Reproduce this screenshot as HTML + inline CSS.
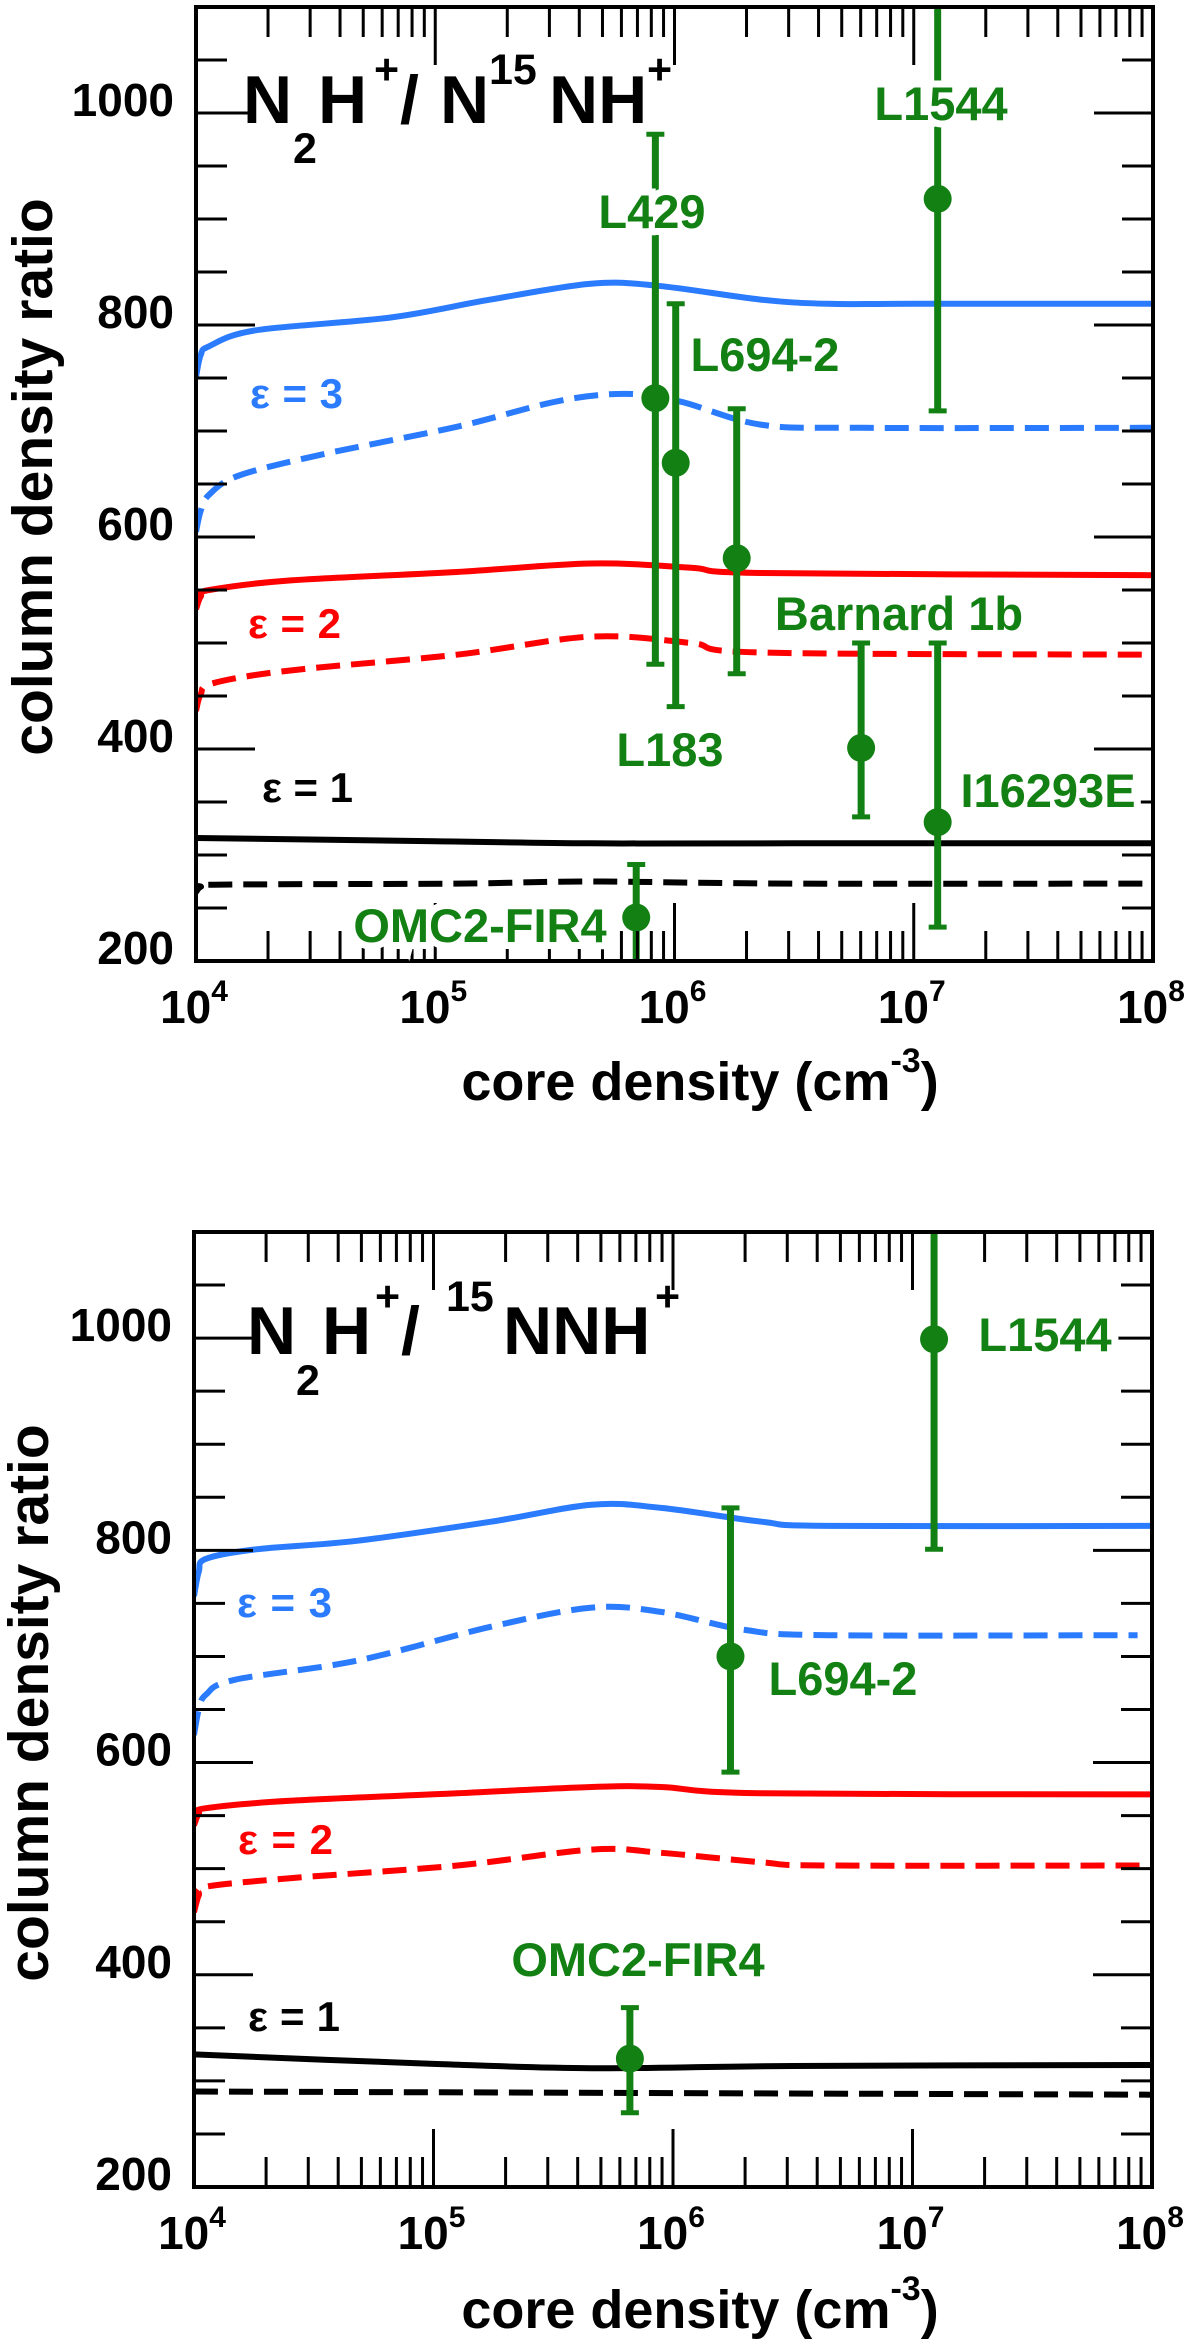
<!DOCTYPE html>
<html><head><meta charset="utf-8"><style>
html,body{margin:0;padding:0;background:#fff;}
svg{display:block;font-family:"Liberation Sans",Arial,sans-serif;font-weight:bold;}
.g{fill:#138013;stroke:#fff;stroke-width:14;paint-order:stroke;font-size:47px;}
</style></head><body>
<svg id="chart" width="1200" height="2348" viewBox="0 0 1200 2348" xmlns="http://www.w3.org/2000/svg">
<defs>
<clipPath id="clipTop"><rect x="196" y="7" width="957" height="954"/></clipPath>
<clipPath id="clipBot"><rect x="194" y="1232" width="958" height="955"/></clipPath>
</defs>
<g id="top"></g>
<g id="bot"></g>

<!-- Top panel texts -->
<text font-size="68" fill="#000" y="123"><tspan x="243">N</tspan><tspan x="293" y="163" font-size="43">2</tspan><tspan x="318" y="123">H</tspan><tspan x="374" y="84" font-size="43">+</tspan><tspan x="400" y="123">/</tspan><tspan x="440" y="123">N</tspan><tspan x="489" y="84" font-size="43">15</tspan><tspan x="549" y="123">NH</tspan><tspan x="647" y="84" font-size="43">+</tspan></text>
<text x="250" y="408" font-size="42" fill="#2b7bff" textLength="93">ε = 3</text>
<text x="248" y="638" font-size="42" fill="#ff0000" textLength="93">ε = 2</text>
<text x="262" y="802" font-size="42" fill="#000" textLength="91">ε = 1</text>
<text class="g" x="941" y="120" text-anchor="middle">L1544</text>
<text class="g" x="652" y="228" text-anchor="middle">L429</text>
<text class="g" x="765" y="371" text-anchor="middle">L694-2</text>
<text class="g" x="670" y="766" text-anchor="middle">L183</text>
<text class="g" x="899" y="630" text-anchor="middle">Barnard 1b</text>
<text class="g" x="1048" y="807" text-anchor="middle">I16293E</text>
<text class="g" x="480" y="942" text-anchor="middle">OMC2-FIR4</text>
<text font-size="57" fill="#000" text-anchor="middle" transform="translate(52,477) rotate(-90)">column density ratio</text>
<text font-size="54" fill="#000" text-anchor="middle" x="700" y="1100">core density (cm<tspan font-size="34" dy="-28">-3</tspan><tspan dy="28">)</tspan></text>

<!-- Bottom panel texts -->
<text font-size="68" fill="#000" y="1354"><tspan x="247">N</tspan><tspan x="296" y="1395" font-size="43">2</tspan><tspan x="322" y="1354">H</tspan><tspan x="375" y="1311" font-size="43">+</tspan><tspan x="401" y="1354">/</tspan><tspan x="446" y="1311" font-size="43">15</tspan><tspan x="503" y="1354">NNH</tspan><tspan x="655" y="1311" font-size="43">+</tspan></text>
<text x="237" y="1617" font-size="42" fill="#2b7bff" textLength="95">ε = 3</text>
<text x="238" y="1854" font-size="42" fill="#ff0000" textLength="95">ε = 2</text>
<text x="248" y="2031" font-size="42" fill="#000" textLength="92">ε = 1</text>
<text class="g" x="1045" y="1351" text-anchor="middle">L1544</text>
<text class="g" x="843" y="1695" text-anchor="middle">L694-2</text>
<text class="g" x="638" y="1976" text-anchor="middle">OMC2-FIR4</text>
<text font-size="57" fill="#000" text-anchor="middle" transform="translate(48,1703) rotate(-90)">column density ratio</text>
<text font-size="54" fill="#000" text-anchor="middle" x="700" y="2328">core density (cm<tspan font-size="34" dy="-28">-3</tspan><tspan dy="28">)</tspan></text>
</svg>
<script>
// ---- data (x = log10 core density, y = column density ratio) ----
const yTicks = [200, 400, 600, 800, 1000];
const xDecades = [4, 5, 6, 7, 8];

const topBlueSolidX = [4.0, 4.02, 4.055, 4.25, 4.81, 5.23, 5.65, 5.93, 6.36, 6.64, 7.0, 8.0];
const topBlueSolidY = [751, 772, 780, 795, 807, 824, 839, 837, 824, 820, 820, 820];
const topBlueDashX = [4.0, 4.02, 4.055, 4.18, 4.53, 5.09, 5.51, 5.79, 6.02, 6.36, 6.78, 8.0];
const topBlueDashY = [605, 625, 640, 658, 678, 704, 728, 735, 728, 706, 703, 703];
const topRedSolidX = [4.0, 4.02, 4.055, 4.39, 5.09, 5.65, 6.07, 6.36, 8.0];
const topRedSolidY = [532, 544, 550, 559, 567, 575, 571, 566, 564];
const topRedDashX = [4.0, 4.02, 4.07, 4.39, 5.09, 5.65, 6.07, 6.36, 8.0];
const topRedDashY = [436, 452, 462, 474, 489, 506, 500, 491, 489];
const topBlackSolidX = [4.0, 5.0, 5.65, 6.5, 8.0];
const topBlackSolidY = [316, 313, 311, 311, 311];
const topBlackDashX = [4.0, 4.02, 4.07, 5.09, 5.65, 6.5, 8.0];
const topBlackDashY = [265, 270, 272, 273, 275, 273, 273];

const topPointNames = ["omc2-fir4", "l429", "l694-2", "l183", "barnard-1b", "i16293e", "l1544"];
const topPointX = [5.84, 5.92, 6.005, 6.26, 6.78, 7.10, 7.10];
const topPointY = [241, 731, 670, 580, 401, 331, 919];
const topPointLo = [185, 480, 440, 471, 336, 232, 719];
const topPointHi = [291, 980, 820, 721, 500, 500, 1150];

const botBlueSolidX = [4.0, 4.02, 4.05, 4.26, 4.68, 5.24, 5.66, 5.95, 6.37, 6.65, 8.0];
const botBlueSolidY = [757, 780, 792, 801, 809, 827, 843, 840, 827, 823, 823];
const botBlueDashX = [4.0, 4.02, 4.05, 4.17, 4.68, 5.24, 5.66, 5.95, 6.3, 6.65, 7.94];
const botBlueDashY = [626, 650, 664, 678, 696, 728, 746, 742, 725, 720, 720];
const botRedSolidX = [4.0, 4.02, 4.05, 4.4, 5.1, 5.66, 5.95, 6.37, 8.0];
const botRedSolidY = [541, 552, 557, 564, 571, 577, 577, 571, 570];
const botRedDashX = [4.0, 4.02, 4.05, 4.4, 5.1, 5.66, 5.95, 6.37, 6.65, 8.0];
const botRedDashY = [459, 475, 483, 491, 503, 518, 515, 506, 503, 503];
const botBlackSolidX = [4.0, 5.0, 5.66, 6.5, 8.0];
const botBlackSolidY = [325, 316, 312, 314, 315];
const botBlackDashX = [4.0, 8.0];
const botBlackDashY = [290, 287];

const botPointNames = ["omc2-fir4", "l694-2", "l1544"];
const botPointX = [5.82, 6.24, 7.09];
const botPointY = [321, 700, 999];
const botPointLo = [270, 591, 801];
const botPointHi = [369, 840, 1150];

const NS = "http://www.w3.org/2000/svg";
function mk(tag, attrs, parent) {
  const e = document.createElementNS(NS, tag);
  for (const k in attrs) e.setAttribute(k, attrs[k]);
  parent.appendChild(e);
  return e;
}

function panel(gid, box, clipId, series, pts, prefix) {
  const g = document.getElementById(gid);
  const xs = v => box.l + (v - 4) / 4 * (box.r - box.l);
  const ys = v => box.b - (v - 200) / 900 * (box.b - box.t);
  const plotG = mk("g", {"clip-path": "url(#" + clipId + ")"}, g);
  
  
  series.forEach(s => {
    const P = s.x.map((v, i) => [xs(v), ys(s.y[i])]);
    let d = "M" + P[0][0].toFixed(1) + "," + P[0][1].toFixed(1);
    for (let i = 0; i < P.length - 1; i++) {
      const p0 = P[Math.max(0, i - 1)], p1 = P[i], p2 = P[i + 1], p3 = P[Math.min(P.length - 1, i + 2)];
      const c1 = [p1[0] + (p2[0] - p0[0]) / 6, p1[1] + (p2[1] - p0[1]) / 6];
      const c2 = [p2[0] - (p3[0] - p1[0]) / 6, p2[1] - (p3[1] - p1[1]) / 6];
      d += "C" + c1[0].toFixed(1) + "," + c1[1].toFixed(1) + " " + c2[0].toFixed(1) + "," + c2[1].toFixed(1) + " " + p2[0].toFixed(1) + "," + p2[1].toFixed(1);
    }
    const path = mk("path", {d: d, fill: "none", stroke: s.c, "stroke-width": 6, "stroke-dasharray": s.dash ? "24 11" : "none"}, plotG);
    
    
  });
  pts.names.forEach((n, i) => {
    const x = xs(pts.x[i]);
    const pg = mk("g", {}, plotG);
    
    
    mk("line", {x1: x, x2: x, y1: ys(pts.lo[i]), y2: ys(pts.hi[i]), stroke: "#138013", "stroke-width": 7}, pg);
    [pts.lo[i], pts.hi[i]].forEach(v => {
      mk("line", {x1: x - 9, x2: x + 9, y1: ys(v), y2: ys(v), stroke: "#138013", "stroke-width": 5}, pg);
    });
    mk("circle", {cx: x, cy: ys(pts.y[i]), r: 14, fill: "#138013"}, pg);
  });
  const fr = mk("rect", {x: box.l, y: box.t, width: box.r - box.l, height: box.b - box.t, fill: "none", stroke: "#000", "stroke-width": 4}, g);
  
  
  const yt = mk("g", {stroke: "#000", "stroke-width": 3}, g);
  
  
  for (let v = 250; v < 1100; v += 50) {
    const L = (v % 200 === 0) ? 59 : 31;
    mk("line", {x1: box.l, x2: box.l + L, y1: ys(v), y2: ys(v)}, yt);
    mk("line", {x1: box.r, x2: box.r - L, y1: ys(v), y2: ys(v)}, yt);
  }
  yTicks.forEach(v => {
    const t = mk("text", {x: box.l - 22, y: ys(v) + 3, "text-anchor": "end", "font-size": 46, fill: "#000"}, g);
    t.textContent = String(v);
    
    
  });
  const xt = mk("g", {stroke: "#000", "stroke-width": 3}, g);
  
  
  for (let dcd = 4; dcd < 8; dcd++) {
    for (let m = 1; m <= 9; m++) {
      const lv = dcd + Math.log10(m);
      if (m === 1 && dcd === 4) continue;
      const L = m === 1 ? 58 : 30;
      const x = xs(lv);
      mk("line", {x1: x, x2: x, y1: box.b, y2: box.b - L}, xt);
      mk("line", {x1: x, x2: x, y1: box.t, y2: box.t + L}, xt);
    }
  }
  xDecades.forEach(dc => {
    const t = mk("text", {x: xs(dc) - 2, y: box.b + 62, "text-anchor": "middle", "font-size": 46, fill: "#000"}, g);
    const a = mk("tspan", {}, t); a.textContent = "10";
    const b = mk("tspan", {"font-size": 30, dy: -22}, t); b.textContent = String(dc);
    
    
  });
}

const BLUE = "#2b7bff", RED = "#ff0000", BLACK = "#000";
panel("top", {l: 196, r: 1153, t: 7, b: 961}, "clipTop", [
  {name: "eps3-solid", x: topBlueSolidX, y: topBlueSolidY, c: BLUE, dash: false},
  {name: "eps3-dashed", x: topBlueDashX, y: topBlueDashY, c: BLUE, dash: true},
  {name: "eps2-solid", x: topRedSolidX, y: topRedSolidY, c: RED, dash: false},
  {name: "eps2-dashed", x: topRedDashX, y: topRedDashY, c: RED, dash: true},
  {name: "eps1-solid", x: topBlackSolidX, y: topBlackSolidY, c: BLACK, dash: false},
  {name: "eps1-dashed", x: topBlackDashX, y: topBlackDashY, c: BLACK, dash: true}
], {names: topPointNames, x: topPointX, y: topPointY, lo: topPointLo, hi: topPointHi}, "top");

panel("bot", {l: 194, r: 1152, t: 1232, b: 2187}, "clipBot", [
  {name: "eps3-solid", x: botBlueSolidX, y: botBlueSolidY, c: BLUE, dash: false},
  {name: "eps3-dashed", x: botBlueDashX, y: botBlueDashY, c: BLUE, dash: true},
  {name: "eps2-solid", x: botRedSolidX, y: botRedSolidY, c: RED, dash: false},
  {name: "eps2-dashed", x: botRedDashX, y: botRedDashY, c: RED, dash: true},
  {name: "eps1-solid", x: botBlackSolidX, y: botBlackSolidY, c: BLACK, dash: false},
  {name: "eps1-dashed", x: botBlackDashX, y: botBlackDashY, c: BLACK, dash: true}
], {names: botPointNames, x: botPointX, y: botPointY, lo: botPointLo, hi: botPointHi}, "bottom");

const svg = document.getElementById("chart");
Array.from(svg.querySelectorAll("svg > text")).forEach(t => svg.appendChild(t));
</script>
</body></html>
